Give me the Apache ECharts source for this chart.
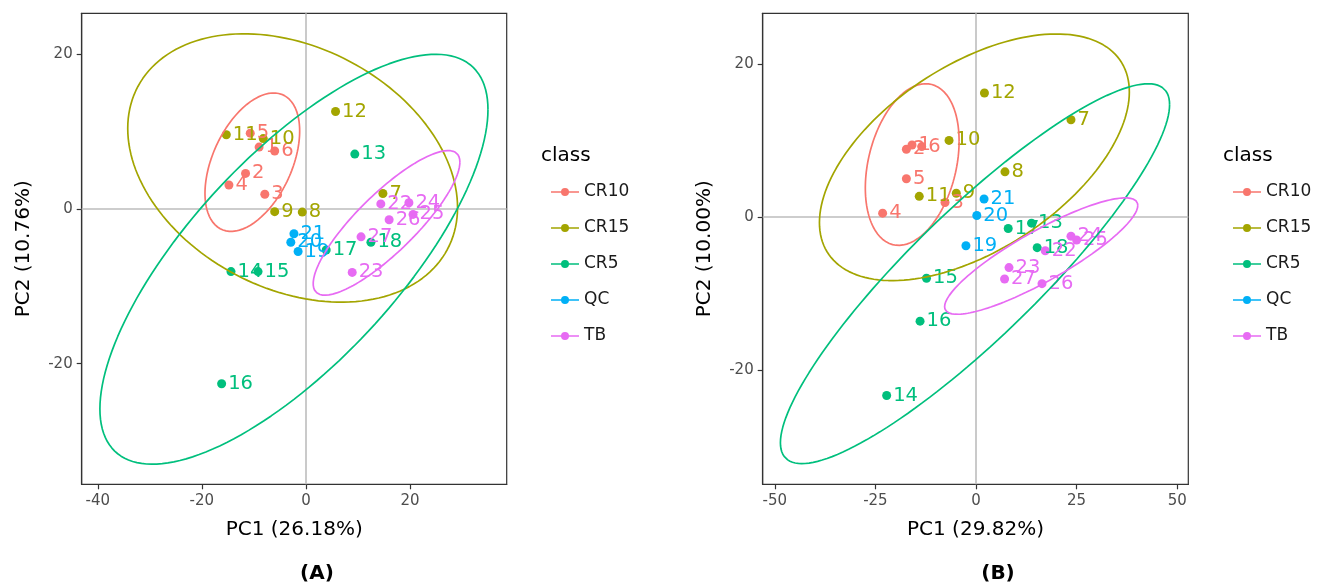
<!DOCTYPE html>
<html>
<head>
<meta charset="utf-8">
<script src="https://cdn.jsdelivr.net/npm/echarts@6/dist/echarts.min.js"></script>
<style>
html,body{margin:0;padding:0;background:#fff;}
#chart{width:1323px;height:586px;}
</style>
</head>
<body>
<div id="chart"></div>
<script>
// ---------- data ----------
const classes = ['CR10', 'CR15', 'CR5', 'QC', 'TB'];
const classColors = ['#F8766D', '#A3A500', '#00BF7D', '#00B0F6', '#E76BF3'];

// Panel A : PC1 (26.18%) vs PC2 (10.76%)  [x, y, sample]
const pcaA_CR10 = [[-9.0, 8.0, '1'], [-11.6, 4.6, '2'], [-7.9, 1.9, '3'], [-14.8, 3.1, '4'], [-10.7, 9.8, '5'], [-6.0, 7.5, '6']];
const pcaA_CR15 = [[14.8, 2.0, '7'], [-0.7, -0.4, '8'], [-6.0, -0.35, '9'], [-8.2, 9.1, '10'], [-15.3, 9.6, '11'], [5.7, 12.6, '12']];
const pcaA_CR5  = [[9.4, 7.1, '13'], [-14.4, -8.1, '14'], [-9.2, -8.1, '15'], [-16.2, -22.6, '16'], [3.9, -5.3, '17'], [12.5, -4.3, '18']];
const pcaA_QC   = [[-1.5, -5.5, '19'], [-2.9, -4.3, '20'], [-2.3, -3.2, '21']];
const pcaA_TB   = [[14.4, 0.65, '22'], [8.9, -8.2, '23'], [19.8, 0.8, '24'], [20.6, -0.7, '25'], [16.0, -1.4, '26'], [10.6, -3.6, '27']];

// Panel B : PC1 (29.82%) vs PC2 (10.00%)
const pcaB_CR10 = [[-15.9, 9.4, '1'], [-17.3, 8.85, '2'], [-7.7, 1.9, '3'], [-23.2, 0.5, '4'], [-17.3, 5.0, '5'], [-13.5, 9.2, '6']];
const pcaB_CR15 = [[23.6, 12.7, '7'], [7.2, 5.9, '8'], [-4.9, 3.1, '9'], [-6.7, 10.0, '10'], [-14.1, 2.7, '11'], [2.1, 16.2, '12']];
const pcaB_CR5  = [[13.8, -0.8, '13'], [-22.2, -23.3, '14'], [-12.3, -8.0, '15'], [-13.9, -13.6, '16'], [8.0, -1.5, '17'], [15.2, -4.0, '18']];
const pcaB_QC   = [[-2.5, -3.75, '19'], [0.2, 0.2, '20'], [2.0, 2.35, '21']];
const pcaB_TB   = [[17.2, -4.4, '22'], [8.2, -6.6, '23'], [23.6, -2.5, '24'], [25.0, -3.0, '25'], [16.4, -8.7, '26'], [7.1, -8.1, '27']];

// 95% confidence ellipses: [centerX, centerY, halfWidthX, halfHeightY, correlation]
const ellipseA_CR10 = [-10.3, 6.05, 9.1, 8.95, 0.45];
const ellipseA_CR15 = [-2.55, 5.3, 31.7, 17.35, -0.295];
const ellipseA_CR5  = [-2.3, -6.5, 37.3, 26.5, 0.73];
const ellipseA_TB   = [15.5, -1.8, 14.1, 9.35, 0.84];
const ellipseB_CR10 = [-15.85, 6.85, 11.65, 10.55, 0.29];
const ellipseB_CR15 = [-0.4, 7.8, 38.5, 16.1, 0.53];
const ellipseB_CR5  = [-0.25, -7.4, 48.35, 24.8, 0.89];
const ellipseB_TB   = [16.2, -5.1, 24.0, 7.6, 0.87];

// axes
const rangeA_x = [-43.1, 38.6];
const rangeA_y = [-35.6, 25.3];
const rangeB_x = [-53.0, 52.75];
const rangeB_y = [-34.9, 26.6];
const ticksA_x = [-40, -20, 0, 20];
const ticksA_y = [-20, 0, 20];
const ticksB_x = [-50, -25, 0, 25, 50];
const ticksB_y = [-20, 0, 20];
const axisTitlesA = ['PC1 (26.18%)', 'PC2 (10.76%)'];
const axisTitlesB = ['PC1 (29.82%)', 'PC2 (10.00%)'];
const panelTags = ['(A)', '(B)'];
const legendTitle = 'class';

// ---------- build ----------
const FONT = 'DejaVu Sans';
const pointsA = [pcaA_CR10, pcaA_CR15, pcaA_CR5, pcaA_QC, pcaA_TB];
const pointsB = [pcaB_CR10, pcaB_CR15, pcaB_CR5, pcaB_QC, pcaB_TB];
const ellA = [ellipseA_CR10, ellipseA_CR15, ellipseA_CR5, null, ellipseA_TB];
const ellB = [ellipseB_CR10, ellipseB_CR15, ellipseB_CR5, null, ellipseB_TB];

function ellipsePath(p) {
  const [cx, cy, rx, ry, rho] = p;
  const s = Math.sqrt(1 - rho * rho);
  const out = [];
  const n = 160;
  for (let i = 0; i <= n; i++) {
    const t = 2 * Math.PI * i / n;
    out.push([cx + rx * Math.cos(t), cy + ry * (rho * Math.cos(t) + s * Math.sin(t))]);
  }
  return out;
}

function xAxisCfg(gi, range, ticks, name) {
  return {
    type: 'value', gridIndex: gi, min: range[0], max: range[1],
    name: name, nameLocation: 'middle', nameGap: 35,
    nameTextStyle: { fontSize: 20, color: '#000', fontFamily: FONT },
    axisLine: { show: true, onZero: false, lineStyle: { color: '#333', width: 1.2 } },
    axisTick: { show: true, length: 5, customValues: ticks, lineStyle: { color: '#333', width: 1.2 } },
    axisLabel: { customValues: ticks, fontSize: 15, color: '#4d4d4d', margin: 9, fontFamily: FONT },
    splitLine: { show: false }
  };
}
function yAxisCfg(gi, range, ticks, name) {
  return {
    type: 'value', gridIndex: gi, min: range[0], max: range[1],
    name: name, nameLocation: 'middle', nameGap: 48,
    nameTextStyle: { fontSize: 20, color: '#000', fontFamily: FONT },
    axisLine: { show: true, onZero: false, lineStyle: { color: '#333', width: 1.2 } },
    axisTick: { show: true, length: 5, customValues: ticks, lineStyle: { color: '#333', width: 1.2 } },
    axisLabel: { customValues: ticks, fontSize: 15, color: '#4d4d4d', margin: 9, fontFamily: FONT },
    splitLine: { show: false }
  };
}

const series = [];
function addPanel(gi, pts, ells) {
  classes.forEach((c, k) => {
    const s = {
      type: 'scatter', name: c, xAxisIndex: gi, yAxisIndex: gi,
      symbolSize: 9, itemStyle: { color: classColors[k], opacity: 1 },
      data: pts[k].map(d => ({ value: [d[0], d[1]], name: d[2] })),
      label: { show: true, position: 'right', distance: 2, formatter: '{b}',
        color: classColors[k], fontSize: 19.5, fontFamily: FONT },
      emphasis: { disabled: true }, z: 3
    };
    if (k === 0) {
      s.markLine = {
        silent: true, symbol: ['none', 'none'], label: { show: false },
        lineStyle: { color: '#bdbdbd', type: 'solid', width: 1.6 },
        data: [{ xAxis: 0 }, { yAxis: 0 }], z: 1, animation: false
      };
    }
    series.push(s);
  });
  classes.forEach((c, k) => {
    if (!ells[k]) return;
    series.push({
      type: 'line', name: c, xAxisIndex: gi, yAxisIndex: gi,
      data: ellipsePath(ells[k]), showSymbol: false, symbol: 'none',
      lineStyle: { color: classColors[k], width: 1.7 }, itemStyle: { color: classColors[k] },
      emphasis: { disabled: true }, z: 4, silent: true
    });
  });
}
addPanel(0, pointsA, ellA);
addPanel(1, pointsB, ellB);

const keyIcon = 'path://M0,8.2 L28,8.2 L28,9.8 L0,9.8 Z M10,9 A4,4 0 1,1 18,9 A4,4 0 1,1 10,9 Z';
function legendCfg(left) {
  return {
    orient: 'vertical', left: left, top: 178, itemWidth: 28, itemHeight: 18, itemGap: 18,
    selectedMode: false,
    data: classes.map((c, k) => ({ name: c, icon: keyIcon, itemStyle: { color: classColors[k] } })),
    textStyle: { fontSize: 17, color: '#1a1a1a', fontFamily: FONT, lineHeight: 18, padding: [0, 0, 0, 0] }
  };
}

const option = {
  animation: false,
  backgroundColor: '#fff',
  grid: [
    { left: 81.7, top: 13.3, width: 425, height: 471, show: true, borderColor: '#333', borderWidth: 1.2, backgroundColor: '#fff' },
    { left: 762.7, top: 13.3, width: 425.6, height: 471, show: true, borderColor: '#333', borderWidth: 1.2, backgroundColor: '#fff' }
  ],
  xAxis: [xAxisCfg(0, rangeA_x, ticksA_x, axisTitlesA[0]), xAxisCfg(1, rangeB_x, ticksB_x, axisTitlesB[0])],
  yAxis: [yAxisCfg(0, rangeA_y, ticksA_y, axisTitlesA[1]), yAxisCfg(1, rangeB_y, ticksB_y, axisTitlesB[1])],
  legend: [legendCfg(546), legendCfg(1228)],
  graphic: [
    { type: 'text', left: 541, top: 146, style: { text: legendTitle, font: '20px "DejaVu Sans"', fill: '#000' } },
    { type: 'text', left: 1223, top: 146, style: { text: legendTitle, font: '20px "DejaVu Sans"', fill: '#000' } },
    { type: 'text', x: 317, y: 574, style: { text: panelTags[0], font: 'bold 20px "DejaVu Sans"', fill: '#000', textAlign: 'center', textVerticalAlign: 'middle' } },
    { type: 'text', x: 998, y: 574, style: { text: panelTags[1], font: 'bold 20px "DejaVu Sans"', fill: '#000', textAlign: 'center', textVerticalAlign: 'middle' } }
  ],
  series: series
};

const chart = echarts.init(document.getElementById('chart'), null, { renderer: 'canvas' });
chart.setOption(option);
</script>
</body>
</html>
